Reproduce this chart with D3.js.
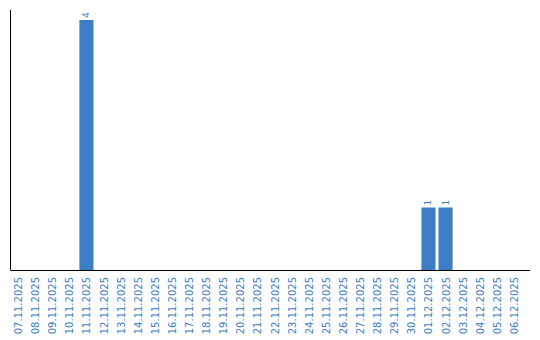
<!DOCTYPE html>
<html>
<head>
<meta charset="utf-8">
<script src="https://cdn.jsdelivr.net/npm/d3@7"></script>
<style>
  body { margin: 0; background: #fff; }
  svg { display: block; font-family: "DejaVu Sans", Verdana, sans-serif; }
</style>
</head>
<body>
<svg id="chart" width="540" height="340"></svg>
<script>
// Dates on the x axis
const dates = [
  "07.11.2025", "08.11.2025", "09.11.2025", "10.11.2025", "11.11.2025",
  "12.11.2025", "13.11.2025", "14.11.2025", "15.11.2025", "16.11.2025",
  "17.11.2025", "18.11.2025", "19.11.2025", "20.11.2025", "21.11.2025",
  "22.11.2025", "23.11.2025", "24.11.2025", "25.11.2025", "26.11.2025",
  "27.11.2025", "28.11.2025", "29.11.2025", "30.11.2025", "01.12.2025",
  "02.12.2025", "03.12.2025", "04.12.2025", "05.12.2025", "06.12.2025"
];
// Count per date
const counts = [
  0, 0, 0, 0, 4,
  0, 0, 0, 0, 0,
  0, 0, 0, 0, 0,
  0, 0, 0, 0, 0,
  0, 0, 0, 0, 1,
  1, 0, 0, 0, 0
];

const data = dates.map((d, i) => ({ date: d, count: counts[i] }));
const blue = "#3b7ec4";

const svg = d3.select("#chart");
const plotLeft = 10.5, plotBottom = 270, plotTop = 20;

// x scale: 17px steps, 14px bars
const x = d3.scaleBand()
    .domain(dates)
    .range([11, 11 + 17 * 30])
    .paddingInner(3 / 17)
    .paddingOuter(0)
    .align(0);

const y = d3.scaleLinear()
    .domain([0, 4])
    .range([plotBottom, plotTop]);

// bars
svg.selectAll("rect.bar")
    .data(data.filter(d => d.count > 0))
    .enter().append("rect")
    .attr("class", "bar")
    .attr("x", d => x(d.date))
    .attr("y", d => y(d.count))
    .attr("width", x.bandwidth())
    .attr("height", d => plotBottom - y(d.count))
    .attr("fill", blue);

// value labels
svg.selectAll("text.val")
    .data(data.filter(d => d.count > 0))
    .enter().append("text")
    .attr("class", "val")
    .attr("transform", d => "translate(" + (x(d.date) + x.bandwidth() / 2 + 3) + "," + (y(d.count) - 2) + ") rotate(-90)")
    .attr("font-size", 9)
    .attr("fill", blue)
    .text(d => d.count);

// x axis
const xAxis = svg.append("g")
    .attr("transform", "translate(0," + plotBottom + ")")
    .call(d3.axisBottom(x).tickSize(0).tickPadding(0));
xAxis.select(".domain").remove();
xAxis.selectAll("text")
    .attr("fill", blue)
    .attr("font-size", 10)
    .attr("font-family", "'DejaVu Sans', Verdana, sans-serif")
    .attr("text-anchor", "end")
    .attr("dy", null)
    .attr("y", 0)
    .attr("transform", "translate(4,7) rotate(-90)");

// axis lines
svg.append("line")
    .attr("x1", plotLeft).attr("x2", plotLeft)
    .attr("y1", 10).attr("y2", plotBottom)
    .attr("stroke", "#000");
svg.append("line")
    .attr("x1", plotLeft).attr("x2", 530)
    .attr("y1", plotBottom + 0.5).attr("y2", plotBottom + 0.5)
    .attr("stroke", "#000");
</script>
</body>
</html>
